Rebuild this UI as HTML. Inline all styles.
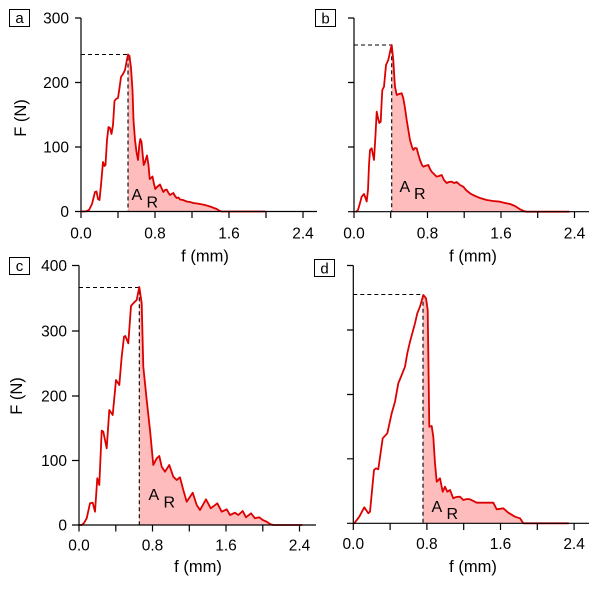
<!DOCTYPE html>
<html><head><meta charset="utf-8"><style>
html,body{margin:0;padding:0;background:#fff;}
svg{display:block;}
text{font-family:"Liberation Sans",Arial,sans-serif;fill:#000;}
</style></head><body>
<svg width="600" height="589" viewBox="0 0 600 589" xmlns="http://www.w3.org/2000/svg">
<g stroke-linejoin="round" stroke-linecap="round">
<polygon fill="#ffbcbc" stroke="none" points="128,211.5 128,54.5 129.5,56 131,68 132.5,90 133.5,120 135,140 136.5,152 138,160 139.3,145 140.3,139 141.5,142 143.7,165 145,162 147,155.5 148.5,165 149.7,179 151,178 152.5,176.5 154,184 155.3,189 157,187 160,184.5 161.5,188 163.3,192 165,190 166.7,189.5 168.5,193 170,195 171.5,194 173.3,193 175,196 176.7,198 178.5,197.5 180,199.5 183,200 186.7,201.5 190,202 193.3,203 197,203.5 200,204 205,205 210,206.5 216.7,209 220,211 222,211.5"/>
<polygon fill="#ffbcbc" stroke="none" points="391.7,211.7 391.7,45 393.3,60 394.5,80 395,86.7 396.7,95 399,94 401.7,93.3 403.3,98.3 405,108 406.7,120 408.5,131 410,140 412,147 413.3,150 415,148 416.7,148.3 418.5,155 420,160 422,165 423.3,166.7 425,166 428.3,165 430,169 431.7,171.7 434,174 436.7,176.7 439,176 441.7,175 444,180 446.7,183 449,182 451.7,181.7 454,183 456.7,182 460,185 463.3,186.7 466,190 470,193.3 473,195 476.7,196.7 480,198 486.7,200 493,201 500,201.7 505,203 510,204 515,206 520,209.3 523,210.7 526.7,211.7"/>
<polygon fill="#ffbcbc" stroke="none" points="139.3,525 139.3,287 141.7,303.3 143.3,366.7 146.7,400 150,430 153.3,465 156.7,458.3 159.3,456 161.7,466.7 165,471.7 169.3,465 173.3,476.7 176.7,480 180,477.3 183.3,490 186.7,501.7 192.7,492.7 196.7,505 200,510 206,499.3 210.7,508.3 217.3,503.3 221.7,511.7 226.7,509.3 230,515 235,512.7 238.3,515 242.7,511 246,517.3 251,513.3 255,518.3 259.3,517.3 262.7,520 266.7,521.7 270,524 273.3,525"/>
<polygon fill="#ffbcbc" stroke="none" points="423,523.3 423,295 426,298.3 427.7,310 428.3,353.3 429.3,426.7 431.7,426 433.3,436.7 435,463.3 436.7,481.7 440,478.3 442.7,491.7 445,486.7 447.3,491.7 450,490 453.3,498.3 456,497 460,496.7 463.3,500 467,499 470,499.3 476.7,502.7 485,502.7 493.3,502.7 496.7,509.3 503.3,508.3 508.3,512.7 515,516.7 520,518.3 523.3,523.3"/>
</g>

<g stroke="#000" stroke-width="1.1" stroke-dasharray="4,3" fill="none">
<path d="M81,54.5 H128 V211.5"/>
<path d="M354,45 H391.7 V211.7"/>
<path d="M79,287.5 H139.3 V525"/>
<path d="M353.3,294.5 H423 V523.3"/>
</g>

<g fill="none" stroke="#dd0000" stroke-width="1.8" stroke-linejoin="round" stroke-linecap="round">
<polyline points="81,211.5 86,211.3 89,210 92,204 95,192 96.5,191.5 98,199 99.5,200 101,185 103,162 104.5,166 105.5,165 107,140 108.5,127 110,128 111.5,134 113,125 114.5,101 116,99 118,98 119.5,88 121,77 123,74 125,70 126.5,62 128,54.5 129.5,56 131,68 132.5,90 133.5,120 135,140 136.5,152 138,160 139.3,145 140.3,139 141.5,142 143.7,165 145,162 147,155.5 148.5,165 149.7,179 151,178 152.5,176.5 154,184 155.3,189 157,187 160,184.5 161.5,188 163.3,192 165,190 166.7,189.5 168.5,193 170,195 171.5,194 173.3,193 175,196 176.7,198 178.5,197.5 180,199.5 183,200 186.7,201.5 190,202 193.3,203 197,203.5 200,204 205,205 210,206.5 216.7,209 220,211 222,211.5 265,211.5"/>
<polyline points="356,211.7 358,210 360,203 361.7,196.7 364,194 365.5,198 366.7,201.5 368,190 369,165 370,150 371.7,148.3 373,155 374,160 375.5,135 376.7,111.7 378,118 379.3,123 380.7,121.7 381.5,105 382.3,90 384,86.7 386,65 388.3,60 390,52 391.7,45 393.3,60 394.5,80 395,86.7 396.7,95 399,94 401.7,93.3 403.3,98.3 405,108 406.7,120 408.5,131 410,140 412,147 413.3,150 415,148 416.7,148.3 418.5,155 420,160 422,165 423.3,166.7 425,166 428.3,165 430,169 431.7,171.7 434,174 436.7,176.7 439,176 441.7,175 444,180 446.7,183 449,182 451.7,181.7 454,183 456.7,182 460,185 463.3,186.7 466,190 470,193.3 473,195 476.7,196.7 480,198 486.7,200 493,201 500,201.7 505,203 510,204 515,206 520,209.3 523,210.7 526.7,211.7 569,211.7"/>
<polyline points="79,525 81.7,525 84,523 86.7,518.3 90,503.3 92.7,502.7 95,511.7 97.3,478.3 99.3,485 101.7,430.7 103.3,431.7 106.7,448.3 109.3,410 112.7,415 116,380 119.3,385 121.7,356.7 124,336.7 125.3,336 128.3,343.3 131,306 133.3,303.3 136.7,300 139.3,287 141.7,303.3 143.3,366.7 146.7,400 150,430 153.3,465 156.7,458.3 159.3,456 161.7,466.7 165,471.7 169.3,465 173.3,476.7 176.7,480 180,477.3 183.3,490 186.7,501.7 192.7,492.7 196.7,505 200,510 206,499.3 210.7,508.3 217.3,503.3 221.7,511.7 226.7,509.3 230,515 235,512.7 238.3,515 242.7,511 246,517.3 251,513.3 255,518.3 259.3,517.3 262.7,520 266.7,521.7 270,524 273.3,525 302,525"/>
<polyline points="354.3,523.3 359.3,516.7 364.3,507.3 368.3,513.3 370,511.7 374,470 376,468.3 378.3,469.3 382.7,438.3 387.3,433.3 391.7,413.3 395,401.7 398.3,383.3 401.7,375 405,366.7 407.3,353.3 410,341.7 412.3,333.3 415,323.3 417.3,313.3 420,306.7 423.3,295 426,298.3 427.7,310 428.3,353.3 429.3,426.7 431.7,426 433.3,436.7 435,463.3 436.7,481.7 440,478.3 442.7,491.7 445,486.7 447.3,491.7 450,490 453.3,498.3 456,497 460,496.7 463.3,500 467,499 470,499.3 476.7,502.7 485,502.7 493.3,502.7 496.7,509.3 503.3,508.3 508.3,512.7 515,516.7 520,518.3 523.3,523.3 568.3,523.3"/>
</g>

<g stroke="#000" stroke-width="1.2" fill="none">
<path d="M81,18 V211.5 H317"/>
<path d="M75,18 H81 M75,82.5 H81 M75,147 H81 M75,211.5 H81"/>
<path d="M81,211.5 V218 M118,211.5 V218 M155,211.5 V218 M192,211.5 V218 M229,211.5 V218 M266,211.5 V218 M303,211.5 V218"/>
<path d="M354,18 V211.7 H589"/>
<path d="M348,18 H354 M348,82.5 H354 M348,147 H354 M348,211.7 H354"/>
<path d="M354,211.7 V218 M390.7,211.7 V218 M427.5,211.7 V218 M464.2,211.7 V218 M501,211.7 V218 M537.7,211.7 V218 M574.5,211.7 V218"/>
<path d="M79,265.5 V525 H316"/>
<path d="M72,265.5 H79 M72,331 H79 M72,396 H79 M72,460.5 H79 M72,525 H79"/>
<path d="M79,525 V531.5 M115.8,525 V531.5 M152.5,525 V531.5 M189.3,525 V531.5 M226,525 V531.5 M262.8,525 V531.5 M299.5,525 V531.5"/>
<path d="M353.3,265.5 V523.3 H589"/>
<path d="M347,265.5 H353.3 M347,330 H353.3 M347,394.5 H353.3 M347,458.8 H353.3 M347,523.3 H353.3"/>
<path d="M353.3,523.3 V530 M390.1,523.3 V530 M426.9,523.3 V530 M463.7,523.3 V530 M500.5,523.3 V530 M537.3,523.3 V530 M574.1,523.3 V530"/>
</g>

<g stroke="#000" stroke-width="1" fill="#fff">
<rect x="9.5" y="9.5" width="20" height="17"/>
<rect x="315.5" y="9.5" width="20" height="17"/>
<rect x="9.5" y="257.5" width="20" height="17"/>
<rect x="314.5" y="259.5" width="20" height="17"/>
</g>
<g font-size="15" text-anchor="middle">
<text x="19.5" y="23">a</text>
<text x="325.5" y="23.5">b</text>
<text x="19.5" y="271">c</text>
<text x="324.5" y="273.5">d</text>
</g>

<g font-size="15.5" text-anchor="end">
<text x="69" y="23.5">300</text>
<text x="69" y="88">200</text>
<text x="69" y="152.5">100</text>
<text x="69" y="217">0</text>
<text x="67" y="271">400</text>
<text x="67" y="336.5">300</text>
<text x="67" y="401.5">200</text>
<text x="67" y="466">100</text>
<text x="67" y="530.5">0</text>
</g>

<g font-size="15.5" text-anchor="middle">
<text x="81" y="238.5">0.0</text>
<text x="155" y="238.5">0.8</text>
<text x="229" y="238.5">1.6</text>
<text x="303" y="238.5">2.4</text>
<text x="354" y="238.5">0.0</text>
<text x="427.5" y="238.5">0.8</text>
<text x="501" y="238.5">1.6</text>
<text x="574.5" y="238.5">2.4</text>
<text x="79" y="550.5">0.0</text>
<text x="152.5" y="550.5">0.8</text>
<text x="226" y="550.5">1.6</text>
<text x="299.5" y="550.5">2.4</text>
<text x="353.3" y="549">0.0</text>
<text x="426.9" y="549">0.8</text>
<text x="500.5" y="549">1.6</text>
<text x="574.1" y="549">2.4</text>
</g>

<g font-size="16.5" text-anchor="middle">
<text x="205" y="261.5">f (mm)</text>
<text x="473" y="261.5">f (mm)</text>
<text x="198" y="572">f (mm)</text>
<text x="473" y="572">f (mm)</text>
<text transform="translate(26,118) rotate(-90)">F (N)</text>
<text transform="translate(22,396) rotate(-90)">F (N)</text>
</g>

<g font-size="16">
<text x="131.5" y="200">A</text><text x="146.5" y="207.5">R</text>
<text x="399.5" y="192">A</text><text x="414" y="199">R</text>
<text x="148.5" y="500">A</text><text x="163.5" y="507.5">R</text>
<text x="431.5" y="512">A</text><text x="446.5" y="519">R</text>
</g>
</svg>
</body></html>
